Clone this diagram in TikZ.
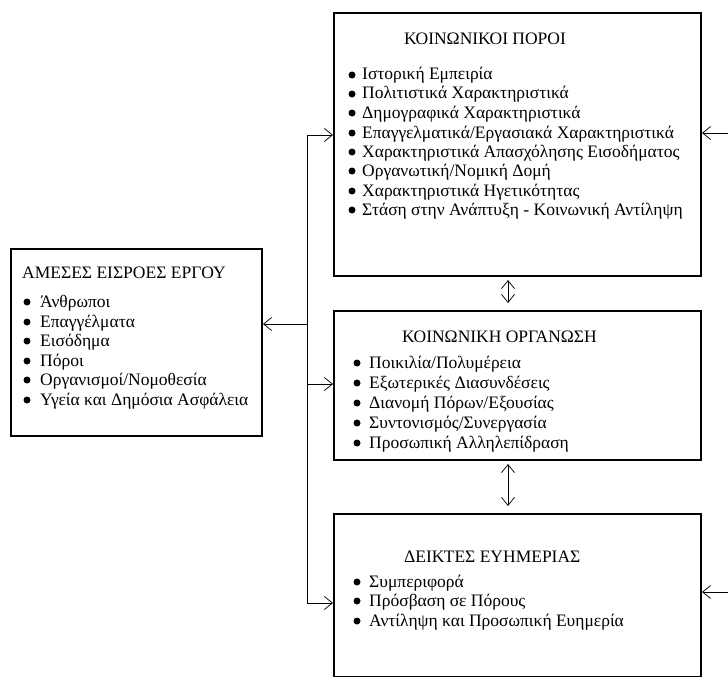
\documentclass[tikz,border=0pt]{standalone}
\usepackage{fontspec}
\setmainfont{Liberation Serif}
\usetikzlibrary{arrows.meta}

\begin{document}
\begin{tikzpicture}[x=1pt,y=-1pt,
	box/.style={draw, line width=2pt, anchor=north west, inner sep=0pt},
	conn/.style={line width=0.75pt, -{Straight Barb[length=8pt,width=13pt]}},
	both/.style={line width=0.75pt, {Straight Barb[length=8pt,width=13pt]}-{Straight Barb[length=8pt,width=13pt]}},
	item/.style={anchor=base west, inner sep=0pt, font=\fontsize{17.5}{20}\selectfont},
	dot/.style={circle, fill, inner sep=0pt, minimum size=7pt}]
	\useasboundingbox (0,0) rectangle (728,677);
	% boxes
	\node[box, minimum width=251pt, minimum height=187pt] (inputs) at (10,248) {};
	\node[box, minimum width=367pt, minimum height=263pt] (resources) at (333,12) {};
	\node[box, minimum width=367pt, minimum height=149pt] (organisation) at (333,310) {};
	\node[box, minimum width=367pt, minimum height=163pt] (wellbeing) at (333,513) {};
	% titles
	\node[item] (tin) at (22,278) {ΑΜΕΣΕΣ ΕΙΣΡΟΕΣ ΕΡΓΟΥ};
	\node[item] (tres) at (404,45) {ΚΟΙΝΩΝΙΚΟΙ ΠΟΡΟΙ};
	\node[item] (torg) at (402,342) {ΚΟΙΝΩΝΙΚΗ ΟΡΓΑΝΩΣΗ};
	\node[item] (twell) at (404,562) {ΔΕΙΚΤΕΣ ΕΥΗΜΕΡΙΑΣ};
	% lists
	\foreach \y/\nm/\txt in {
		307/in1/{Άνθρωποι},
		327/in2/{Επαγγέλματα},
		346/in3/{Εισόδημα},
		366/in4/{Πόροι},
		385/in5/{Οργανισμοί/Νομοθεσία},
		405/in6/{Υγεία και Δημόσια Ασφάλεια}
	}{
		\node[dot] (b\nm) at (27,\y-5) {};
		\node[item] (\nm) at (40,\y) {\txt};
	}
	\foreach \y/\nm/\txt in {
		80/res1/{Ιστορική Εμπειρία},
		99/res2/{Πολιτιστικά Χαρακτηριστικά},
		118/res3/{Δημογραφικά Χαρακτηριστικά},
		138/res4/{Επαγγελματικά/Εργασιακά Χαρακτηριστικά},
		157/res5/{Χαρακτηριστικά Απασχόλησης Εισοδήματος},
		176/res6/{Οργανωτική/Νομική Δομή},
		196/res7/{Χαρακτηριστικά Ηγετικότητας},
		215/res8/{Στάση στην Ανάπτυξη - Κοινωνική Αντίληψη}
	}{
		\node[dot] (b\nm) at (352,\y-5) {};
		\node[item] (\nm) at (362,\y) {\txt};
	}
	\foreach \y/\nm/\txt in {
		368/org1/{Ποικιλία/Πολυμέρεια},
		388/org2/{Εξωτερικές Διασυνδέσεις},
		408/org3/{Διανομή Πόρων/Εξουσίας},
		428/org4/{Συντονισμός/Συνεργασία},
		448/org5/{Προσωπική Αλληλεπίδραση}
	}{
		\node[dot] (b\nm) at (357,\y-5) {};
		\node[item] (\nm) at (369,\y) {\txt};
	}
	\foreach \y/\nm/\txt in {
		587/wb1/{Συμπεριφορά},
		606/wb2/{Πρόσβαση σε Πόρους},
		626/wb3/{Αντίληψη και Προσωπική Ευημερία}
	}{
		\node[dot] (b\nm) at (357,\y-5) {};
		\node[item] (\nm) at (369,\y) {\txt};
	}
	% connectors
	\coordinate (jtop) at (307,135);
	\coordinate (jin) at (307,324);
	\coordinate (jorg) at (307,384);
	\coordinate (jbot) at (307,603);
	\coordinate (etop) at (728,133);
	\coordinate (ebot) at (728,592);
	\coordinate (dx) at (508,0);
	\draw[line width=0.75pt] (jtop) -- (jbot);
	\draw[conn] (jin) -- (jin -| inputs.east);
	\foreach \j/\b in {jtop/resources, jorg/organisation, jbot/wellbeing}
	{\draw[conn] (\j) -- (\j -| \b.west);}
	\foreach \e/\b in {etop/resources, ebot/wellbeing}
	{\draw[conn] (\e) -- (\e -| \b.east);}
	\draw[both] ([yshift=-3pt]resources.south -| dx) -- ([yshift=7pt]organisation.north -| dx);
	\draw[both] ([yshift=-3pt]organisation.south -| dx) -- ([yshift=7pt]wellbeing.north -| dx);
\end{tikzpicture}
\end{document}
